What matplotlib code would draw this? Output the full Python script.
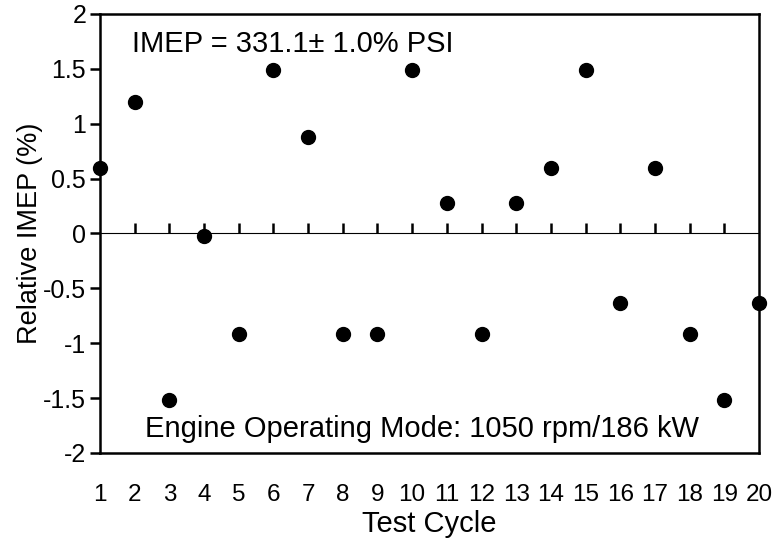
import matplotlib.pyplot as plt

plt.rcParams['font.family'] = ['Liberation Sans', 'DejaVu Sans']

cycles = list(range(1, 21))
rel_imep = [0.6, 1.2, -1.52, -0.02, -0.92, 1.49, 0.88, -0.92, -0.92, 1.49,
            0.28, -0.92, 0.28, 0.6, 1.49, -0.63, 0.6, -0.92, -1.52, -0.63]
y_ticks = [-2, -1.5, -1, -0.5, 0, 0.5, 1, 1.5, 2]
y_labels = ['-2', '-1.5', '-1', '-0.5', '0', '0.5', '1', '1.5', '2']

fig = plt.figure(figsize=(7.79, 5.48), dpi=100)
ax = fig.add_axes([0.1284, 0.1734, 0.8459, 0.8011])

ax.plot(cycles, rel_imep, 'o', color='black', markersize=10, clip_on=False, zorder=5)

ax.set_xlim(1, 20)
ax.set_ylim(-2, 2)
ax.set_yticks(y_ticks)
ax.set_yticklabels(y_labels)
ax.set_xticks(cycles)
ax.tick_params(axis='x', length=0, pad=22, labelsize=17.5)
ax.tick_params(axis='y', direction='out', length=7, width=1.8, labelsize=18, pad=3)
for s in ax.spines.values():
    s.set_linewidth(1.8)

# zero line with the cycle ticks hanging down from it
zx = ax.secondary_xaxis(0.5)
zx.set_xticks(cycles[1:-1])
zx.set_xticklabels([])
zx.tick_params(direction='out', length=7, width=1.8)
zx.spines['bottom'].set_linewidth(1.8)

ax.set_xlabel('Test Cycle', fontsize=21, labelpad=3)
ax.set_ylabel('Relative IMEP (%)', fontsize=19.5, labelpad=0)

ax.text(1.92, 1.654, 'IMEP = 331.1\u00b1 1.0% PSI', fontsize=21, va='baseline', ha='left')
ax.text(2.30, -1.854, 'Engine Operating Mode: 1050 rpm/186 kW', fontsize=21, va='baseline', ha='left')

plt.savefig('out.png', dpi=100)
